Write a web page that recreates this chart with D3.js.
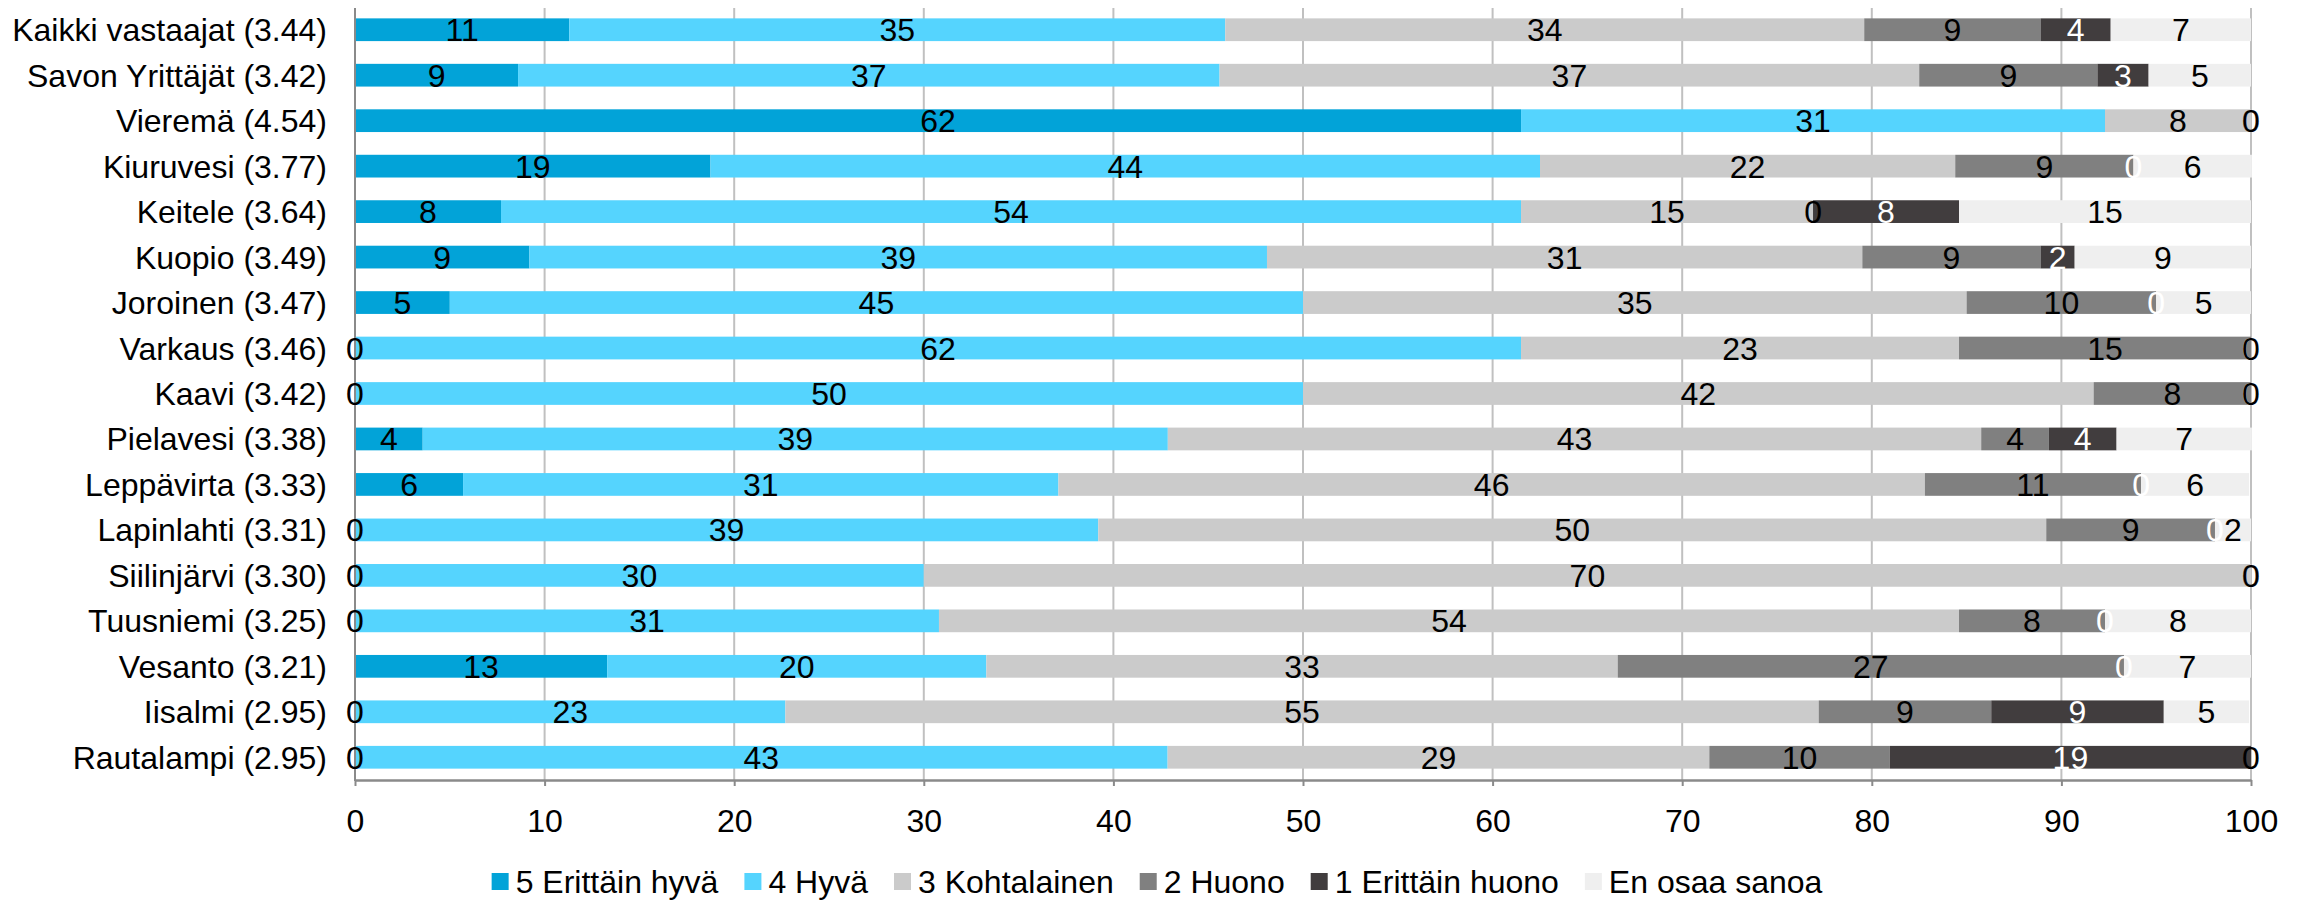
<!DOCTYPE html>
<html>
<head>
<meta charset="utf-8">
<script src="https://cdn.jsdelivr.net/npm/d3@7"></script>
<style>
  html, body { margin: 0; padding: 0; background: #fff; }
  svg { display: block; font-family: "Liberation Sans", Arial, sans-serif; }
</style>
</head>
<body>
<svg id="chart" width="2307" height="900"></svg>
<script>
const categories = ["Kaikki vastaajat (3.44)", "Savon Yrittäjät (3.42)", "Vieremä (4.54)", "Kiuruvesi (3.77)", "Keitele (3.64)", "Kuopio (3.49)", "Joroinen (3.47)", "Varkaus (3.46)", "Kaavi (3.42)", "Pielavesi (3.38)", "Leppävirta (3.33)", "Lapinlahti (3.31)", "Siilinjärvi (3.30)", "Tuusniemi (3.25)", "Vesanto (3.21)", "Iisalmi (2.95)", "Rautalampi (2.95)"];

const seriesNames = ["5 Erittäin hyvä", "4 Hyvä", "3 Kohtalainen", "2 Huono", "1 Erittäin huono", "En osaa sanoa"];
const seriesColors = ["#02A3D8", "#55D4FE", "#CBCBCB", "#808080", "#413D3E", "#EFEFEF"];
const labelColors = ["#000", "#000", "#000", "#000", "#fff", "#000"];

const erittainHyva = [11.3, 8.6, 61.5, 18.75, 7.7, 9.2, 5, 0, 0, 3.57, 5.7, 0, 0, 0, 13.3, 0, 0];
const hyva = [34.6, 37.0, 30.8, 43.75, 53.8, 38.9, 45, 61.5, 50, 39.3, 31.4, 39.2, 30, 30.8, 20, 22.7, 42.86];
const kohtalainen = [33.7, 36.9, 7.7, 21.9, 15.4, 31.4, 35, 23.1, 41.7, 42.9, 45.7, 50.0, 70, 53.8, 33.3, 54.5, 28.57];
const huono = [9.3, 9.4, 0, 9.4, 0, 9.4, 10, 15.4, 8.3, 3.57, 11.4, 8.9, 0, 7.7, 26.7, 9.1, 9.52];
const erittainHuono = [3.7, 2.7, 0, 0, 7.7, 1.8, 0, 0, 0, 3.57, 0, 0, 0, 0, 0, 9.1, 19.05];
const enOsaaSanoa = [7.4, 5.4, 0, 6.25, 15.4, 9.3, 5, 0, 0, 7.14, 5.7, 1.9, 0, 7.7, 6.7, 4.5, 0];

const xTicks = [0, 10, 20, 30, 40, 50, 60, 70, 80, 90, 100];

const seriesValues = [erittainHyva, hyva, kohtalainen, huono, erittainHuono, enOsaaSanoa];
const rows = categories.map((c, i) => {
  const r = { cat: c };
  seriesNames.forEach((s, k) => r[s] = seriesValues[k][i]);
  return r;
});

const svg = d3.select("#chart");
const FS = 32;

const x = d3.scaleLinear().domain([0, 100]).range([355, 2251]);
const y = d3.scaleBand().domain(categories).range([7, 780]).paddingInner(0.5).paddingOuter(0.25);

// gridlines
svg.append("g").selectAll("line").data(xTicks.slice(1)).join("line")
  .attr("x1", d => x(d)).attr("x2", d => x(d))
  .attr("y1", 8).attr("y2", 780)
  .attr("stroke", "#C0C0C0").attr("stroke-width", 2);

const stack = d3.stack().keys(seriesNames);
const stacked = stack(rows);

const gBars = svg.append("g");
stacked.forEach((layer, k) => {
  gBars.append("g").attr("fill", seriesColors[k])
    .selectAll("rect").data(layer).join("rect")
    .attr("x", d => x(d[0]))
    .attr("width", d => Math.max(0, x(d[1]) - x(d[0])))
    .attr("y", d => y(d.data.cat))
    .attr("height", y.bandwidth());
});

// axes lines
svg.append("line").attr("x1", x(0)).attr("x2", x(0)).attr("y1", 8).attr("y2", 781)
  .attr("stroke", "#8A8A8A").attr("stroke-width", 2);

const xAxis = d3.axisBottom(x).tickValues(xTicks).tickSize(6).tickSizeOuter(0).tickFormat(d3.format("d"));
const gx = svg.append("g").attr("transform", "translate(0,780)").call(xAxis);
gx.select(".domain").attr("stroke", "#8A8A8A").attr("stroke-width", 2.5);
gx.selectAll(".tick line").attr("stroke", "#8A8A8A").attr("stroke-width", 2);
gx.selectAll(".tick text").attr("font-size", FS).attr("font-family", "Liberation Sans, Arial, sans-serif")
  .attr("fill", "#000").attr("y", 41).attr("dy", "0.35em");

// category labels
svg.append("g").selectAll("text").data(categories).join("text")
  .attr("x", 327).attr("y", d => y(d) + y.bandwidth() / 2).attr("dy", "0.36em")
  .attr("text-anchor", "end").attr("font-size", FS).attr("fill", "#000")
  .text(d => d);

// data labels
const gLab = svg.append("g");
stacked.forEach((layer, k) => {
  gLab.append("g").selectAll("text").data(layer).join("text")
    .attr("x", d => (x(d[0]) + x(d[1])) / 2)
    .attr("y", d => y(d.data.cat) + y.bandwidth() / 2).attr("dy", "0.36em")
    .attr("text-anchor", "middle").attr("font-size", FS).attr("fill", labelColors[k])
    .text(d => Math.round(d[1] - d[0]));
});

// legend
const leg = svg.append("g");
const items = leg.selectAll("g").data(seriesNames).join("g");
items.append("rect").attr("width", 17).attr("height", 17).attr("y", 873)
  .attr("fill", (d, i) => seriesColors[i]);
items.append("text").attr("x", 24).attr("y", 881).attr("dy", "0.36em")
  .attr("font-size", FS).attr("fill", "#000").text(d => d);
let widths = [];
items.each(function() { widths.push(this.querySelector("text").getComputedTextLength() + 24); });
const gap = 26;
const total = d3.sum(widths) + gap * (widths.length - 1);
let cx = 1157 - total / 2;
items.each(function(d, i) {
  d3.select(this).attr("transform", `translate(${cx},0)`);
  cx += widths[i] + gap;
});
</script>
</body>
</html>
